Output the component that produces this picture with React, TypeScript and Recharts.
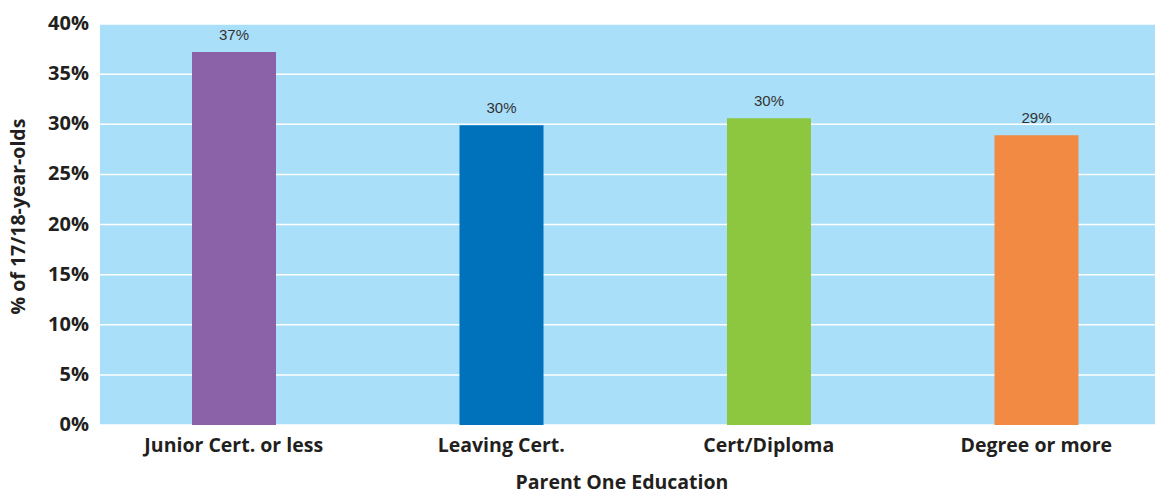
import React from "react";
import { BarChart, Bar, XAxis, YAxis, CartesianGrid, LabelList, Cell, Label } from "recharts";

const categories = ["Junior Cert. or less", "Leaving Cert.", "Cert/Diploma", "Degree or more"];
const values = [37.2, 29.9, 30.6, 28.9];
const valueLabels = ["37%", "30%", "30%", "29%"];
const colors = ["#8b62a8", "#0071bb", "#8dc63f", "#f28a43"];
const yTicks = [0, 5, 10, 15, 20, 25, 30, 35, 40];

const data = categories.map((c, i) => ({ name: c, value: values[i], label: valueLabels[i] }));

const tickFont = "'Open Sans', sans-serif";

export default function App() {
  return (
    <div
      style={{
        position: "fixed",
        left: 0,
        top: 0,
        width: 1155,
        height: 492,
        overflow: "hidden",
        background: "#fff",
      }}
    >
      <BarChart
        width={1170}
        height={492}
        data={data}
        margin={{ top: 24, right: 0, left: 0, bottom: 0 }}
        barCategoryGap={0}
      >
        <CartesianGrid vertical={false} stroke="#ffffff" strokeWidth={1.5} fill="#aadff9" />
        <XAxis
          dataKey="name"
          height={67}
          tickLine={false}
          axisLine={false}
          interval={0}
          tickMargin={7}
          tick={{ fill: "#231f20", fontSize: 19.5, fontWeight: 700, fontFamily: tickFont }}
        >
          <Label
            value="Parent One Education"
            position="insideBottom"
            offset={3}
            dx={-13}
            style={{ fill: "#231f20", fontSize: 19.5, fontWeight: 700, fontFamily: tickFont }}
          />
        </XAxis>
        <YAxis
          width={100}
          domain={[0, 40]}
          ticks={yTicks}
          tickFormatter={(v) => `${v}%`}
          tickLine={false}
          axisLine={false}
          tickMargin={5}
          tick={{ fill: "#231f20", fontSize: 20, fontWeight: 700, fontFamily: tickFont, dy: -1 }}
        >
          <Label
            value="% of 17/18-year-olds"
            angle={-90}
            position="insideLeft"
            offset={18}
            dy={-8}
            style={{ fill: "#231f20", fontSize: 19.5, fontWeight: 700, fontFamily: tickFont, textAnchor: "middle" }}
          />
        </YAxis>
        <Bar dataKey="value" barSize={84} isAnimationActive={false}>
          {data.map((d, i) => (
            <Cell key={i} fill={colors[i]} />
          ))}
          <LabelList
            dataKey="label"
            position="top"
            offset={12}
            style={{ fill: "#333333", fontSize: 15, fontFamily: "'Liberation Sans', Arial, sans-serif" }}
          />
        </Bar>
      </BarChart>
    </div>
  );
}
